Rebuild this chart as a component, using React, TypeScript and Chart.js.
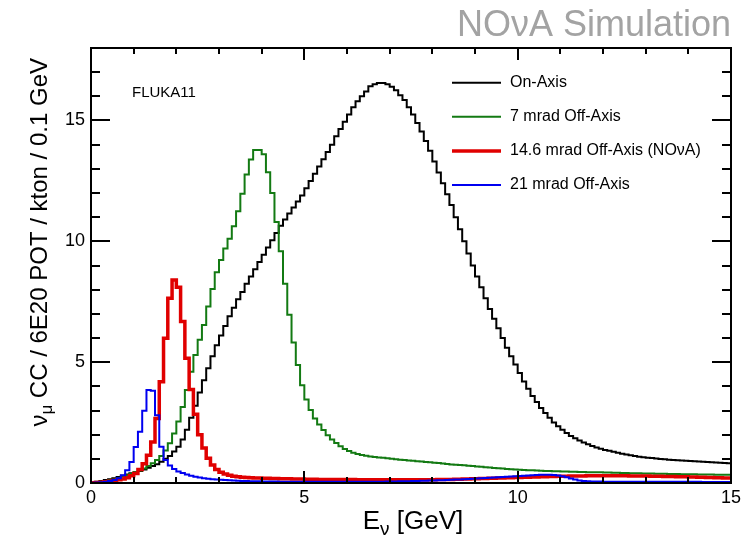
import React, { useEffect, useRef } from "react";
import { Chart, registerables } from "chart.js";

Chart.register(...registerables);

// ---------------- DATA ----------------
const BIN_WIDTH = 0.1; // GeV
const X_MAX = 15;
const Y_MAX = 18;

const seriesLabels = [
  "On-Axis",
  "7 mrad Off-Axis",
  "14.6 mrad Off-Axis (NO\u03bdA)",
  "21 mrad Off-Axis",
];

// bin contents, bins of 0.1 GeV from 0 to 15 GeV
const onAxis = [
  0.03, 0.05, 0.08, 0.12, 0.16, 0.2, 0.25, 0.3, 0.35, 0.4,
  0.45, 0.5, 0.56, 0.63, 0.7, 0.78, 0.88, 1.0, 1.12, 1.3,
  1.5, 1.8, 2.2, 2.7, 3.2, 3.75, 4.25, 4.75, 5.25, 5.7,
  6.1, 6.5, 6.9, 7.25, 7.6, 7.9, 8.25, 8.55, 8.85, 9.15,
  9.45, 9.75, 10.05, 10.35, 10.65, 10.9, 11.15, 11.4, 11.65, 11.9,
  12.2, 12.5, 12.8, 13.1, 13.4, 13.7, 14.0, 14.35, 14.65, 14.95,
  15.25, 15.55, 15.8, 16.0, 16.2, 16.42, 16.5, 16.55, 16.55, 16.5,
  16.4, 16.25, 16.05, 15.85, 15.55, 15.25, 14.9, 14.55, 14.15, 13.75,
  13.3, 12.85, 12.4, 11.95, 11.5, 11.0, 10.5, 10.0, 9.5, 9.0,
  8.55, 8.1, 7.65, 7.2, 6.8, 6.4, 6.0, 5.6, 5.25, 4.9,
  4.55, 4.2, 3.9, 3.6, 3.35, 3.1, 2.9, 2.7, 2.5, 2.35,
  2.2, 2.07, 1.95, 1.85, 1.76, 1.68, 1.6, 1.53, 1.47, 1.42,
  1.37, 1.33, 1.29, 1.25, 1.21, 1.18, 1.15, 1.12, 1.09, 1.07,
  1.05, 1.03, 1.01, 0.99, 0.98, 0.96, 0.95, 0.94, 0.93, 0.92,
  0.91, 0.9, 0.89, 0.88, 0.87, 0.86, 0.85, 0.84, 0.83, 0.82,
];

const offAxis7 = [
  0.02, 0.03, 0.05, 0.08, 0.11, 0.15, 0.2, 0.26, 0.32, 0.38,
  0.45, 0.52, 0.6, 0.7, 0.82, 0.95, 1.12, 1.35, 1.65, 2.05,
  2.55, 3.15, 3.85, 4.6, 5.3, 5.93, 6.54, 7.3, 8.03, 8.72,
  9.23, 9.7, 10.11, 10.62, 11.25, 11.97, 12.77, 13.39, 13.78, 13.78,
  13.6, 12.86, 12.0, 10.8, 9.59, 8.25, 6.96, 5.81, 4.88, 4.05,
  3.46, 3.02, 2.67, 2.42, 2.19, 1.98, 1.8, 1.66, 1.52, 1.41,
  1.32, 1.25, 1.2, 1.16, 1.13, 1.1, 1.08, 1.06, 1.04, 1.02,
  1.0, 0.98, 0.96, 0.95, 0.93, 0.92, 0.9, 0.89, 0.87, 0.86,
  0.84, 0.83, 0.81, 0.79, 0.77, 0.76, 0.74, 0.73, 0.71, 0.7,
  0.68, 0.67, 0.65, 0.64, 0.62, 0.61, 0.6, 0.58, 0.57, 0.56,
  0.55, 0.54, 0.53, 0.53, 0.52, 0.51, 0.5, 0.5, 0.49, 0.49,
  0.48, 0.48, 0.47, 0.47, 0.46, 0.46, 0.45, 0.45, 0.44, 0.44,
  0.43, 0.43, 0.42, 0.42, 0.41, 0.41, 0.4, 0.4, 0.4, 0.39,
  0.39, 0.39, 0.38, 0.38, 0.38, 0.37, 0.37, 0.37, 0.36, 0.36,
  0.36, 0.36, 0.35, 0.35, 0.35, 0.35, 0.34, 0.34, 0.34, 0.34,
];

const offAxis146 = [
  0.01, 0.02, 0.03, 0.05, 0.07, 0.1, 0.13, 0.17, 0.22, 0.3,
  0.39, 0.56, 0.8, 1.15, 1.7, 2.67, 4.19, 5.99, 7.65, 8.4,
  8.1, 6.68, 5.16, 3.87, 2.85, 2.0, 1.45, 1.02, 0.74, 0.56,
  0.44, 0.37, 0.32, 0.28, 0.26, 0.24, 0.23, 0.22, 0.21, 0.21,
  0.2, 0.2, 0.19, 0.19, 0.18, 0.18, 0.18, 0.17, 0.17, 0.17,
  0.16, 0.16, 0.16, 0.15, 0.15, 0.15, 0.15, 0.14, 0.14, 0.14,
  0.14, 0.14, 0.13, 0.13, 0.13, 0.13, 0.13, 0.13, 0.13, 0.13,
  0.13, 0.13, 0.13, 0.13, 0.13, 0.13, 0.13, 0.13, 0.13, 0.13,
  0.13, 0.14, 0.14, 0.15, 0.15, 0.16, 0.16, 0.17, 0.17, 0.18,
  0.18, 0.19, 0.19, 0.2, 0.2, 0.21, 0.21, 0.22, 0.22, 0.23,
  0.23, 0.24, 0.24, 0.25, 0.25, 0.26, 0.26, 0.27, 0.27, 0.28,
  0.28, 0.28, 0.29, 0.29, 0.29, 0.29, 0.3, 0.3, 0.3, 0.3,
  0.3, 0.3, 0.3, 0.3, 0.3, 0.3, 0.29, 0.29, 0.29, 0.29,
  0.29, 0.28, 0.28, 0.28, 0.27, 0.27, 0.27, 0.26, 0.26, 0.26,
  0.25, 0.25, 0.24, 0.24, 0.23, 0.23, 0.22, 0.22, 0.21, 0.21,
];

const offAxis21 = [
  0.01, 0.02, 0.03, 0.05, 0.08, 0.12, 0.2, 0.32, 0.53, 0.87,
  1.49, 2.12, 2.99, 3.85, 3.82, 2.8, 1.5, 0.95, 0.72, 0.58,
  0.48, 0.41, 0.35, 0.3, 0.26, 0.23, 0.2, 0.18, 0.16, 0.14,
  0.13, 0.12, 0.11, 0.1, 0.09, 0.085, 0.08, 0.075, 0.07, 0.07,
  0.065, 0.06, 0.06, 0.06, 0.055, 0.055, 0.05, 0.05, 0.05, 0.05,
  0.05, 0.05, 0.05, 0.05, 0.05, 0.05, 0.05, 0.05, 0.05, 0.05,
  0.05, 0.05, 0.05, 0.05, 0.05, 0.05, 0.05, 0.055, 0.055, 0.06,
  0.06, 0.065, 0.07, 0.07, 0.075, 0.08, 0.085, 0.09, 0.095, 0.1,
  0.1, 0.11, 0.115, 0.12, 0.13, 0.14, 0.15, 0.16, 0.17, 0.18,
  0.19, 0.2, 0.21, 0.22, 0.23, 0.24, 0.25, 0.26, 0.27, 0.28,
  0.29, 0.3, 0.31, 0.32, 0.33, 0.34, 0.34, 0.34, 0.33, 0.31,
  0.28, 0.24, 0.19, 0.14, 0.1, 0.08, 0.07, 0.06, 0.06, 0.06,
  0.05, 0.05, 0.05, 0.05, 0.05, 0.05, 0.05, 0.05, 0.05, 0.05,
  0.05, 0.05, 0.05, 0.05, 0.05, 0.05, 0.05, 0.05, 0.05, 0.05,
  0.05, 0.05, 0.05, 0.04, 0.04, 0.04, 0.04, 0.04, 0.04, 0.04,
];

const xMajorTicks = [0, 5, 10, 15];
const yMajorTicks = [0, 5, 10, 15];
const xMinorStep = 1;
const yMinorStep = 1;

// ---------------- STYLE ----------------
const FONT = '"Liberation Sans", Arial, Helvetica, sans-serif';
const COLORS = ["#000000", "#137a13", "#e00000", "#0000f0"];
const WIDTHS = [2, 2, 3.5, 2];
const ORDERS = [3, 2, 1, 0];

function toHistPoints(vals: number[]) {
  const pts = vals.map((v, i) => ({ x: Math.round(i * BIN_WIDTH * 10) / 10, y: v }));
  pts.push({ x: Math.round(vals.length * BIN_WIDTH * 10) / 10, y: vals[vals.length - 1] });
  return pts;
}

const rootStylePlugin = {
  id: "rootStyle",
  afterDatasetsDraw(chart: any) {
    const { ctx, chartArea: a, scales } = chart;
    const xs = scales.x;
    const ys = scales.y;
    ctx.save();

    // frame
    ctx.strokeStyle = "#000";
    ctx.lineWidth = 2;
    ctx.strokeRect(a.left, a.top, a.right - a.left, a.bottom - a.top);

    // x ticks (bottom & top, pointing inward)
    for (let v = 0; v <= X_MAX + 1e-9; v += xMinorStep) {
      const px = Math.round(xs.getPixelForValue(v));
      const major = xMajorTicks.includes(v);
      const len = major ? 12 : 6;
      ctx.beginPath();
      ctx.moveTo(px, a.bottom);
      ctx.lineTo(px, a.bottom - len);
      ctx.moveTo(px, a.top);
      ctx.lineTo(px, a.top + len);
      ctx.stroke();
    }
    // y ticks (left & right)
    for (let v = 0; v <= Y_MAX + 1e-9; v += yMinorStep) {
      const py = Math.round(ys.getPixelForValue(v));
      const major = yMajorTicks.includes(v);
      const len = major ? 19 : 9;
      ctx.beginPath();
      ctx.moveTo(a.left, py);
      ctx.lineTo(a.left + len, py);
      ctx.moveTo(a.right, py);
      ctx.lineTo(a.right - len, py);
      ctx.stroke();
    }

    // tick labels
    ctx.fillStyle = "#000";
    ctx.font = `18px ${FONT}`;
    ctx.textAlign = "center";
    ctx.textBaseline = "alphabetic";
    xMajorTicks.forEach((v) => {
      ctx.fillText(String(v), xs.getPixelForValue(v), 503);
    });
    ctx.textAlign = "right";
    ctx.textBaseline = "middle";
    yMajorTicks.forEach((v) => {
      ctx.fillText(String(v), 85, ys.getPixelForValue(v));
    });

    // x title: E_nu [GeV]
    {
      const big = `26px ${FONT}`;
      const small = `19px ${FONT}`;
      ctx.textBaseline = "alphabetic";
      ctx.textAlign = "left";
      ctx.font = big;
      const wE = ctx.measureText("E").width;
      const wRest = ctx.measureText(" [GeV]").width;
      ctx.font = small;
      const wNu = ctx.measureText("\u03bd").width;
      const total = wE + wNu + wRest;
      const cx = (a.left + a.right) / 2 + 2;
      const x0 = cx - total / 2;
      const base = 529;
      ctx.font = big;
      ctx.fillText("E", x0, base);
      ctx.font = small;
      ctx.fillText("\u03bd", x0 + wE, base + 6);
      ctx.font = big;
      ctx.fillText(" [GeV]", x0 + wE + wNu, base);
    }

    // y title (rotated): nu_mu CC / 6E20 POT / kton / 0.1 GeV
    {
      const big = `24px ${FONT}`;
      const small = `17px ${FONT}`;
      ctx.save();
      ctx.translate(47, 58);
      ctx.rotate(-Math.PI / 2);
      ctx.textAlign = "left";
      ctx.textBaseline = "alphabetic";
      ctx.font = big;
      const wNu = ctx.measureText("\u03bd").width;
      const rest = " CC / 6E20 POT / kton / 0.1 GeV";
      const wRest = ctx.measureText(rest).width;
      ctx.font = small;
      const wMu = ctx.measureText("\u03bc").width;
      const total = wNu + wMu + wRest;
      const x0 = -total;
      ctx.font = big;
      ctx.fillText("\u03bd", x0, 0);
      ctx.font = small;
      ctx.fillText("\u03bc", x0 + wNu, 5);
      ctx.font = big;
      ctx.fillText(rest, x0 + wNu + wMu, 0);
      ctx.restore();
    }

    // NOvA Simulation
    ctx.fillStyle = "#a3a3a3";
    ctx.font = `36px ${FONT}`;
    ctx.textAlign = "right";
    ctx.textBaseline = "alphabetic";
    ctx.fillText("NO\u03bdA Simulation", 731, 36);

    // FLUKA11
    ctx.fillStyle = "#000";
    ctx.font = `15px ${FONT}`;
    ctx.textAlign = "left";
    ctx.fillText("FLUKA11", 132, 97);

    // legend
    const rowY = [82.7, 116.8, 150.9, 185];
    chart.data.datasets.forEach((ds: any, i: number) => {
      const yy = rowY[i];
      ctx.strokeStyle = ds.borderColor;
      ctx.lineWidth = ds.borderWidth;
      ctx.beginPath();
      ctx.moveTo(452, yy);
      ctx.lineTo(501, yy);
      ctx.stroke();
      ctx.fillStyle = "#000";
      ctx.font = `16px ${FONT}`;
      ctx.textAlign = "left";
      ctx.textBaseline = "middle";
      ctx.fillText(ds.label, 510, yy);
    });

    ctx.restore();
  },
};

export default function App() {
  const canvasRef = useRef<HTMLCanvasElement | null>(null);

  useEffect(() => {
    const canvas = canvasRef.current;
    if (!canvas) return;
    const allSeries = [onAxis, offAxis7, offAxis146, offAxis21];
    const chart = new Chart(canvas, {
      type: "line",
      data: {
        datasets: allSeries.map((vals, i) => ({
          label: seriesLabels[i],
          data: toHistPoints(vals),
          borderColor: COLORS[i],
          backgroundColor: COLORS[i],
          borderWidth: WIDTHS[i],
          stepped: "before" as const,
          pointRadius: 0,
          pointHoverRadius: 0,
          fill: false,
          tension: 0,
          borderJoinStyle: "miter" as const,
          order: ORDERS[i],
        })),
      },
      options: {
        animation: false,
        responsive: false,
        maintainAspectRatio: false,
        devicePixelRatio: 1,
        parsing: false as any,
        normalized: true,
        layout: { padding: { left: 91, right: 12, top: 48, bottom: 52 } },
        scales: {
          x: { type: "linear", min: 0, max: X_MAX, display: false },
          y: { type: "linear", min: 0, max: Y_MAX, display: false },
        },
        plugins: {
          legend: { display: false },
          tooltip: { enabled: false },
        },
        events: [],
      },
      plugins: [rootStylePlugin],
    });
    return () => chart.destroy();
  }, []);

  return (
    <div style={{ position: "absolute", left: 0, top: 0, width: 743, height: 535, background: "#fff" }}>
      <canvas ref={canvasRef} width={743} height={535} style={{ width: 743, height: 535, display: "block" }} />
    </div>
  );
}
